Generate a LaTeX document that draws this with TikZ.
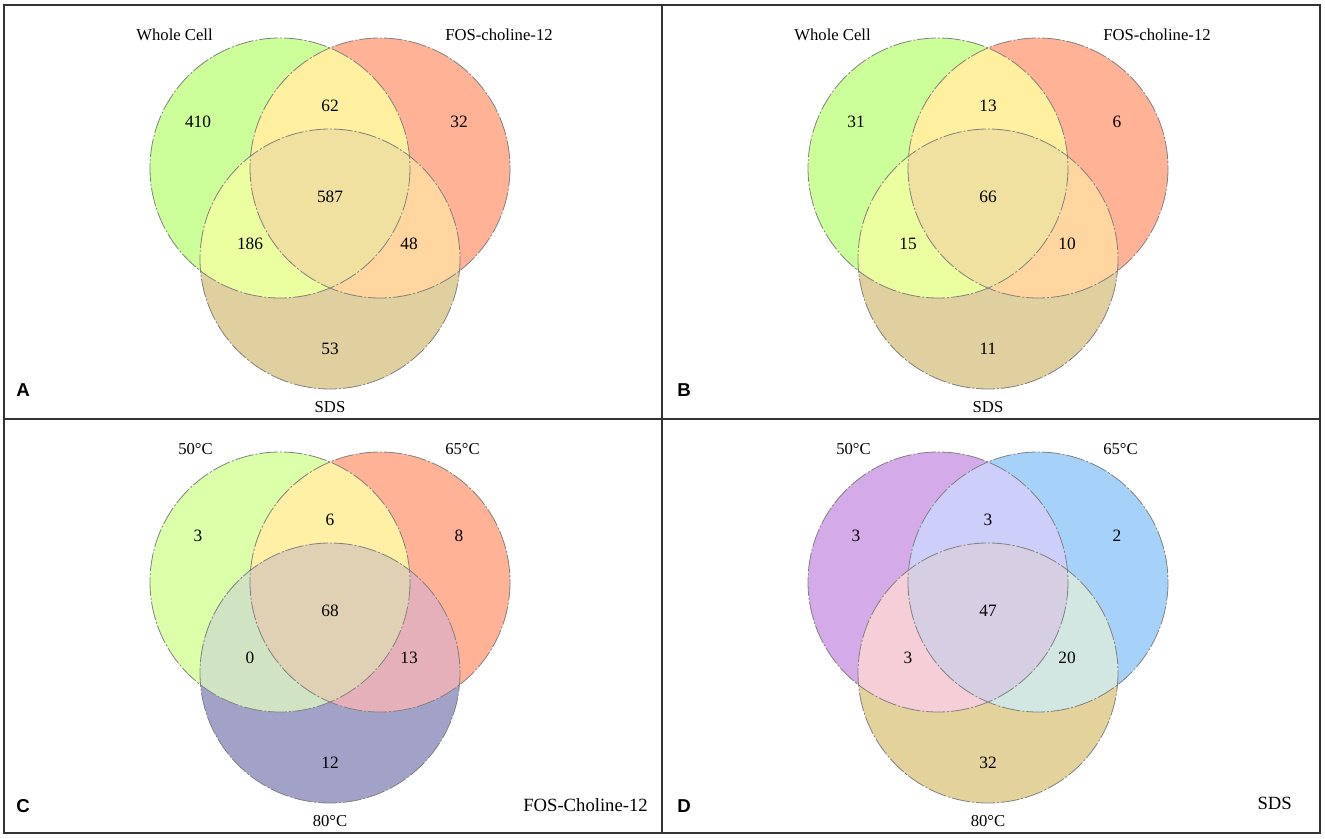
\documentclass[tikz,border=0pt]{standalone}
\usepackage{fontspec}
\setmainfont{Liberation Serif}
\newfontfamily\panelfont{Liberation Sans}
\usepackage{tikz}

% panels A and B: whole cell / FOS-choline-12 / SDS
\definecolor{detA}{RGB}{204,255,153}
\definecolor{detB}{RGB}{255,178,150}
\definecolor{detC}{RGB}{224,208,160}
\definecolor{detAB}{RGB}{255,240,160}
\definecolor{detAC}{RGB}{236,255,160}
\definecolor{detBC}{RGB}{255,214,160}
\definecolor{detABC}{RGB}{240,225,160}
% panel C: FOS-Choline-12 at 50/65/80 C
\definecolor{fosA}{RGB}{220,255,170}
\definecolor{fosB}{RGB}{255,178,150}
\definecolor{fosC}{RGB}{162,162,200}
\definecolor{fosAB}{RGB}{255,240,165}
\definecolor{fosAC}{RGB}{208,228,196}
\definecolor{fosBC}{RGB}{230,176,186}
\definecolor{fosABC}{RGB}{224,208,180}
% panel D: SDS at 50/65/80 C
\definecolor{sdsA}{RGB}{212,170,232}
\definecolor{sdsB}{RGB}{166,210,250}
\definecolor{sdsC}{RGB}{228,210,156}
\definecolor{sdsAB}{RGB}{206,206,250}
\definecolor{sdsAC}{RGB}{245,206,216}
\definecolor{sdsBC}{RGB}{210,230,226}
\definecolor{sdsABC}{RGB}{214,206,226}

% three-set regions, #1/#2 shift, #3 colour prefix
\newcommand{\vennregions}[3]{%
  \begin{scope}[shift={(#1,#2)}]
    \fill[#3A] (280,168) circle (130);
    \fill[#3B] (380,168) circle (130);
    \fill[#3C] (330,259) circle (130);
    \begin{scope}
      \clip (380,168) circle (130);
      \fill[#3BC] (330,259) circle (130);
    \end{scope}
    \begin{scope}
      \clip (280,168) circle (130);
      \fill[#3AB] (380,168) circle (130);
      \fill[#3AC] (330,259) circle (130);
      \clip (380,168) circle (130);
      \fill[#3ABC] (330,259) circle (130);
    \end{scope}
    \draw[ring] (280,168) circle (130);
    \draw[ring] (380,168) circle (130);
    \draw[ring] (330,259) circle (130);
  \end{scope}}

\begin{document}
\begin{tikzpicture}[
  x=0.75pt, y=-0.75pt,
  ring/.style={draw=black!50, line width=0.6pt, dash pattern=on 14pt off 1.5pt on 1.5pt off 1.5pt},
  num/.style={font=\fontsize{13}{15}\selectfont, inner sep=0pt},
  setlabel/.style={font=\fontsize{12.5}{15}\selectfont, inner sep=0pt},
  sidelabel/.style={font=\fontsize{14}{16}\selectfont, inner sep=0pt, anchor=east},
  paneltag/.style={font=\panelfont\bfseries\fontsize{14}{16}\selectfont, inner sep=0pt},
  frame/.style={draw=black!80, line width=1.5pt}
]
\useasboundingbox (0,0) rectangle (1325,839);

\vennregions{0}{0}{det}
\vennregions{658}{0}{det}
\vennregions{0}{414}{fos}
\vennregions{658}{414}{sds}

% counts in each region
\foreach \p/\ox/\oy/\na/\nab/\nb/\nabc/\nac/\nbc/\nc in
  {A/0/0/410/62/32/587/186/48/53, B/658/0/31/13/6/66/15/10/11,
   C/0/414/3/6/8/68/0/13/12, D/658/414/3/3/2/47/3/20/32}{
  \begin{scope}[shift={(\ox,\oy)}]
    \node[num] (onlyA\p) at (198,122) {\na};
    \node[num] (onlyAB\p) at (330,106) {\nab};
    \node[num] (onlyB\p) at (459,122) {\nb};
    \node[num] (all\p) at (330,197) {\nabc};
    \node[num] (onlyAC\p) at (250,244) {\nac};
    \node[num] (onlyBC\p) at (409,244) {\nbc};
    \node[num] (onlyC\p) at (330,349) {\nc};
  \end{scope}
}

% set names
\foreach \p/\ox/\oy/\la/\lb/\lc in
  {A/0/0/Whole Cell/FOS-choline-12/SDS, B/658/0/Whole Cell/FOS-choline-12/SDS,
   C/0/414/50°C/65°C/80°C, D/658/414/50°C/65°C/80°C}{
  \begin{scope}[shift={(\ox,\oy)}]
    \node[setlabel, anchor=east] (setA\p) at (213,35) {\la};
    \node[setlabel, anchor=west] (setB\p) at (445,35) {\lb};
    \node[setlabel] (setC\p) at (330,407) {\lc};
  \end{scope}
}
\node[sidelabel] (fosC) at (648,805) {FOS-Choline-12};
\node[sidelabel] (sdsD) at (1292,803) {SDS};

% panel letters
\node[paneltag] (tagA) at (23,390) {A};
\node[paneltag] (tagB) at (684,390) {B};
\node[paneltag] (tagC) at (23,806) {C};
\node[paneltag] (tagD) at (684,806) {D};

% frame
\draw[frame] (4,5) rectangle (1320,833);
\draw[frame] (662,5) -- (662,833);
\draw[frame] (4,419) -- (1320,419);
\end{tikzpicture}
\end{document}
